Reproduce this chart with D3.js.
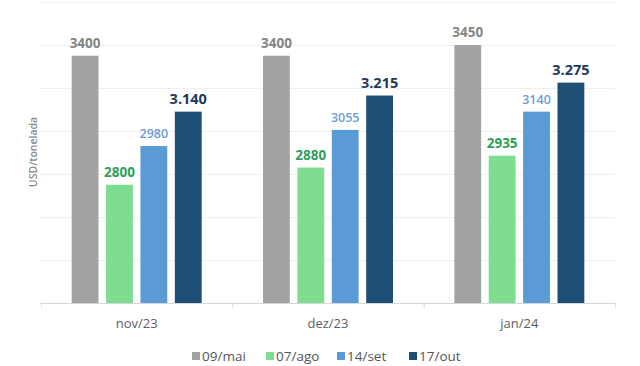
<!DOCTYPE html>
<html><head><meta charset="utf-8">
<script src="https://cdn.jsdelivr.net/npm/d3@7"></script>
<style>body{margin:0;background:#fff;}svg{display:block;font-family:"Open Sans",sans-serif;}</style>
</head><body><svg id="c" width="640" height="366"></svg>
<script>
const categories = ["nov/23", "dez/23", "jan/24"];
const seriesNames = ["09/mai", "07/ago", "14/set", "17/out"];
const valMai = [3400, 3400, 3450];
const valAgo = [2800, 2880, 2935];
const valSet = [2980, 3055, 3140];
const valOut = [3140, 3215, 3275];
const labelsOut = ["3.140", "3.215", "3.275"];
const seriesValues = [valMai, valAgo, valSet, valOut];
const colors = ["#a3a3a3", "#7edd8f", "#5b9bd5", "#1f4e75"];
const labelColors = ["#858585", "#2e9f5b", "#6d9dcf", "#1e3b5a"];
const yTicks = [2250, 2450, 2650, 2850, 3050, 3250, 3450, 3650];

const svg = d3.select("#c");
const x0 = d3.scaleBand().domain(categories).range([41, 615]).padding(0);
const x1 = d3.scaleBand().domain(seriesNames).range([-65, 65]).paddingInner(0.22);
const y = d3.scaleLinear().domain([2250, 3650]).range([303, 2]);

// gridlines
svg.append("g").selectAll("line").data(yTicks.slice(1)).join("line")
  .attr("x1", 40).attr("x2", 615)
  .attr("y1", d => Math.round(y(d)) + 0.5).attr("y2", d => Math.round(y(d)) + 0.5)
  .attr("stroke", "#efefef").attr("stroke-width", 1);

// bars
categories.forEach((c, ci) => {
  const g = svg.append("g").attr("transform", `translate(${x0(c) + x0.bandwidth() / 2},0)`);
  seriesNames.forEach((s, si) => {
    const v = seriesValues[si][ci];
    g.append("rect").attr("x", x1(s)).attr("width", x1.bandwidth())
      .attr("y", y(v)).attr("height", y(2250) - y(v)).attr("fill", colors[si]);
    const txt = si === 3 ? labelsOut[ci] : String(v);
    g.append("text").attr("x", x1(s) + x1.bandwidth() / 2).attr("y", y(v) - 8)
      .attr("text-anchor", "middle")
      .attr("font-size", si === 3 ? 14.5 : (si === 2 ? 12.5 : 13.5))
      .attr("font-weight", si === 2 ? 600 : 700)
      .attr("fill", labelColors[si]).text(txt);
  });
});

// x axis
const xa = svg.append("g").attr("transform", "translate(0,303)");
xa.append("line").attr("x1", 40).attr("x2", 615).attr("y1", 0.5).attr("y2", 0.5).attr("stroke", "#d6d6d6");
xa.selectAll("line.sep").data(categories.slice(1)).join("line").attr("class", "sep")
  .attr("x1", d => x0(d) + 0.5).attr("x2", d => x0(d) + 0.5).attr("y1", 0).attr("y2", 5).attr("stroke", "#d6d6d6");
xa.selectAll("line.end").data([41, 615]).join("line").attr("class", "end")
  .attr("x1", d => d + 0.5).attr("x2", d => d + 0.5).attr("y1", 0).attr("y2", 5).attr("stroke", "#e4e4e4");
xa.selectAll("text").data(categories).join("text")
  .attr("x", d => x0(d) + x0.bandwidth() / 2).attr("y", 25)
  .attr("text-anchor", "middle").attr("font-size", 13).attr("fill", "#5e5e5e").text(d => d);

// y axis title
svg.append("text").attr("transform", "translate(37,152) rotate(-90)")
  .attr("text-anchor", "middle").attr("font-size", 10.5).attr("font-weight", 600)
  .attr("fill", "#8a8a8a").text("USD/tonelada");

// legend
const legX = [192, 266, 337, 409];
const lg = svg.append("g");
seriesNames.forEach((s, i) => {
  lg.append("rect").attr("x", legX[i]).attr("y", 352).attr("width", 8).attr("height", 8).attr("fill", colors[i]);
  lg.append("text").attr("x", legX[i] + 10).attr("y", 361).attr("font-size", 13.5)
    .attr("fill", "#555").text(s);
});
</script></body></html>
